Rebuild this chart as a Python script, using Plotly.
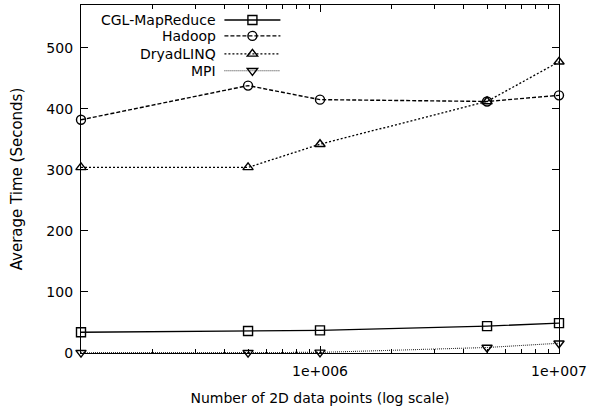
import plotly.graph_objects as go

x_points = [1e5, 5e5, 1e6, 5e6, 1e7]
cgl = [34, 36, 37, 44, 49]
hadoop = [382, 438, 415, 412, 422]
dryad = [304, 304, 342, 412, 477]
mpi = [0.5, 0.5, 1, 9, 16]
names = ["CGL-MapReduce", "Hadoop", "DryadLINQ", "MPI"]
x_tickvals = [1e6, 1e7]
x_ticktext = ["1e+006", "1e+007"]
y_tickvals = [0, 100, 200, 300, 400, 500]

font_family = "DejaVu Sans, Verdana, sans-serif"

W, H = 591, 412
ML, MR, MT, MB = 81, 30, 4, 59
PW, PH = W - ML - MR, H - MT - MB

styles = [
    dict(dash="solid", symbol="square-open", color="#000000", width=1.4),
    dict(dash="4px,2px", symbol="circle-open", color="#000000", width=1.4),
    dict(dash="2px,2px", symbol="triangle-up-open", color="#000000", width=1.3),
    dict(dash="1px,1px", symbol="triangle-down-open", color="#333333", width=1.1),
]
legend_ids = ["legend", "legend2", "legend3", "legend4"]
legend_y_px = [19, 35, 53, 70]

fig = go.Figure()
for name, ys, st, lid in zip(names, [cgl, hadoop, dryad, mpi], styles, legend_ids):
    fig.add_trace(go.Scatter(
        x=x_points, y=ys, name=name, mode="lines+markers",
        line=dict(color=st["color"], width=st["width"], dash=st["dash"]),
        marker=dict(symbol=st["symbol"], size=9, color="#000000",
                    line=dict(width=1.4, color="#000000")),
        cliponaxis=False, legend=lid,
    ))

minor_vals = [m * 10 ** e for e in (5, 6) for m in range(2, 10)]

legend_common = dict(
    xanchor="left", yanchor="middle",
    bgcolor="rgba(0,0,0,0)", borderwidth=0,
    font=dict(size=8, color="rgba(0,0,0,0)"),
    itemwidth=56, tracegroupgap=0,
)
legend_layout = {}
for lid, ypx in zip(legend_ids, legend_y_px):
    legend_layout[lid] = dict(legend_common, x=(220 - ML) / PW, y=1 - (ypx - MT) / PH)

fig.update_layout(
    width=W, height=H,
    margin=dict(l=ML, r=MR, t=MT, b=MB),
    paper_bgcolor="white", plot_bgcolor="white",
    font=dict(family=font_family, size=14, color="#000000"),
    showlegend=True,
    xaxis=dict(
        type="log", range=[5, 7],
        tickvals=x_tickvals, ticktext=x_ticktext,
        ticks="inside", ticklen=7, tickwidth=1, tickcolor="#000000",
        showline=True, linecolor="#000000", linewidth=1.3, mirror="ticks",
        showgrid=False, zeroline=False,
        tickfont=dict(size=14), ticklabelstandoff=5,
        minor=dict(tickvals=minor_vals, ticks="inside", ticklen=4,
                   tickcolor="#000000", showgrid=False),
        title=dict(text="Number of 2D data points (log scale)", font=dict(size=14), standoff=15),
    ),
    yaxis=dict(
        range=[0, 570],
        tickvals=y_tickvals,
        ticks="inside", ticklen=7, tickwidth=1, tickcolor="#000000",
        showline=True, linecolor="#000000", linewidth=1.3, mirror="ticks",
        showgrid=False, zeroline=False,
        tickfont=dict(size=14), ticklabelstandoff=4,
        title=dict(text="Average Time (Seconds)", font=dict(size=15), standoff=20),
    ),
    **legend_layout,
)

# Legend labels placed to the left of the legend samples (gnuplot style)
for name, ypx in zip(names, legend_y_px):
    fig.add_annotation(
        text=name, xref="paper", yref="paper",
        x=(219 - ML) / PW, y=1 - (ypx - MT) / PH,
        xanchor="right", yanchor="middle", showarrow=False,
        font=dict(size=14, family=font_family, color="#000000"),
    )

fig.write_html("out.html")
